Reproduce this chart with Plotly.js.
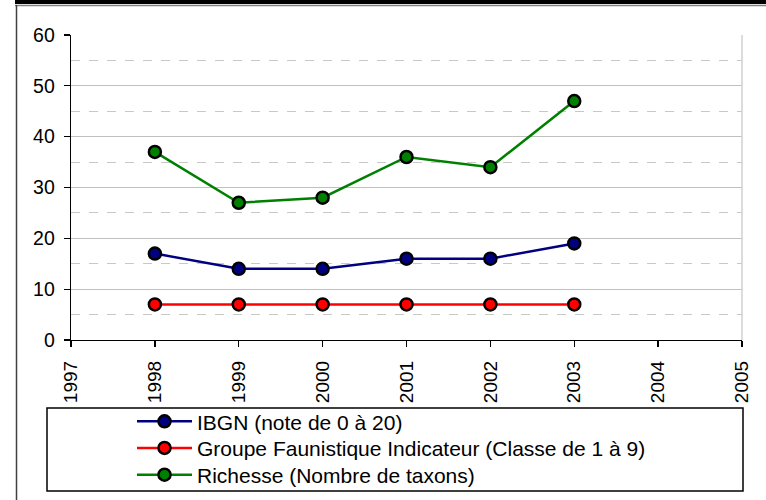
<!DOCTYPE html>
<html>
<head>
<meta charset="utf-8">
<script src="https://cdn.plot.ly/plotly-3.0.1.min.js"></script>
<style>html,body{margin:0;padding:0;background:#fff;}#chart{width:766px;height:500px;}</style>
</head>
<body>
<div id="chart"></div>
<script>
var years = [1998, 1999, 2000, 2001, 2002, 2003];
var ibgn = [17, 14, 14, 16, 16, 19];
var gfi = [7, 7, 7, 7, 7, 7];
var richesse = [37, 27, 28, 36, 34, 47];
var seriesNames = ["IBGN (note de 0 à 20)", "Groupe Faunistique Indicateur (Classe de 1 à 9)", "Richesse (Nombre de taxons)"];
var seriesColors = ["#000080", "#FF0000", "#008000"];
var xTicks = [1997, 1998, 1999, 2000, 2001, 2002, 2003, 2004, 2005];
var yTicks = [0, 10, 20, 30, 40, 50, 60];

var FONT = "Liberation Sans, Arial, sans-serif";
var W = 766, H = 500;
var L = 71, R = 742, T = 35, B = 340;
var legendIds = ["legend", "legend2", "legend3"];
var rowCenters = [421.7, 448.3, 475];

function mk(y, i) {
  return {
    x: years, y: y, name: seriesNames[i], type: "scatter", mode: "lines+markers",
    legend: legendIds[i],
    line: {color: seriesColors[i], width: 2.5},
    marker: {color: seriesColors[i], size: 12, line: {color: "#000", width: 2.5}}
  };
}
var data = [mk(ibgn, 0), mk(gfi, 1), mk(richesse, 2)];

function px(x) { return (x - L) / (R - L); }
function py(y) { return 1 - (y - T) / (B - T); }
function leg(i) {
  return {
    xref: "container", yref: "container",
    x: 132 / W, y: 1 - rowCenters[i] / H, xanchor: "left", yanchor: "middle",
    bgcolor: "rgba(0,0,0,0)", borderwidth: 0, itemwidth: 55,
    font: {family: FONT, size: 21, color: "#000"}
  };
}

var layout = {
  width: W, height: H,
  margin: {l: L, r: W - R, t: T, b: H - B, pad: 0, autoexpand: false},
  paper_bgcolor: "#fff", plot_bgcolor: "#fff",
  showlegend: true,
  font: {family: FONT, color: "#000", size: 20},
  xaxis: {
    range: [1997, 2005], tickvals: xTicks, ticktext: xTicks.map(String),
    tickangle: -90, ticks: "outside", ticklen: 6, tickwidth: 1.3, tickcolor: "#000",
    showgrid: false, zeroline: false, showline: true, linecolor: "#000", linewidth: 1.3,
    tickfont: {family: FONT, size: 19, color: "#000"}, ticklabelstandoff: 6,
    automargin: false, fixedrange: true
  },
  yaxis: {
    range: [0, 60], tickvals: yTicks, ticktext: yTicks.map(String),
    ticks: "outside", ticklen: 6, tickwidth: 1.3, tickcolor: "#000",
    showgrid: true, gridcolor: "#c0c0c0", gridwidth: 1,
    minor: {dtick: 5, tick0: 0, showgrid: true, gridcolor: "#c8c8c8", griddash: "dash", gridwidth: 1, ticks: ""},
    zeroline: false, showline: true, linecolor: "#000", linewidth: 1.3,
    tickfont: {family: FONT, size: 19.5, color: "#000"}, ticklabelstandoff: 5,
    automargin: false, fixedrange: true
  },
  legend: leg(0), legend2: leg(1), legend3: leg(2),
  shapes: [
    {type: "line", xref: "paper", yref: "paper", x0: 1, x1: 1, y0: 0, y1: 1, line: {color: "#d0d0d0", width: 1.5}},
    {type: "rect", xref: "paper", yref: "paper", x0: px(47), x1: px(743), y0: py(491), y1: py(408), line: {color: "#000", width: 1.5}, fillcolor: "rgba(0,0,0,0)"},
    {type: "rect", xref: "paper", yref: "paper", x0: px(15), x1: px(790), y0: py(4), y1: py(-10), line: {width: 0}, fillcolor: "#000"},
    {type: "line", xref: "paper", yref: "paper", x0: px(15), x1: px(790), y0: py(5.5), y1: py(5.5), line: {color: "#808080", width: 1.5}},
    {type: "line", xref: "paper", yref: "paper", x0: px(16.5), x1: px(16.5), y0: py(5), y1: py(520), line: {color: "#404040", width: 1.5}}
  ]
};
Plotly.newPlot("chart", data, layout, {displayModeBar: false, staticPlot: true});
</script>
</body>
</html>
